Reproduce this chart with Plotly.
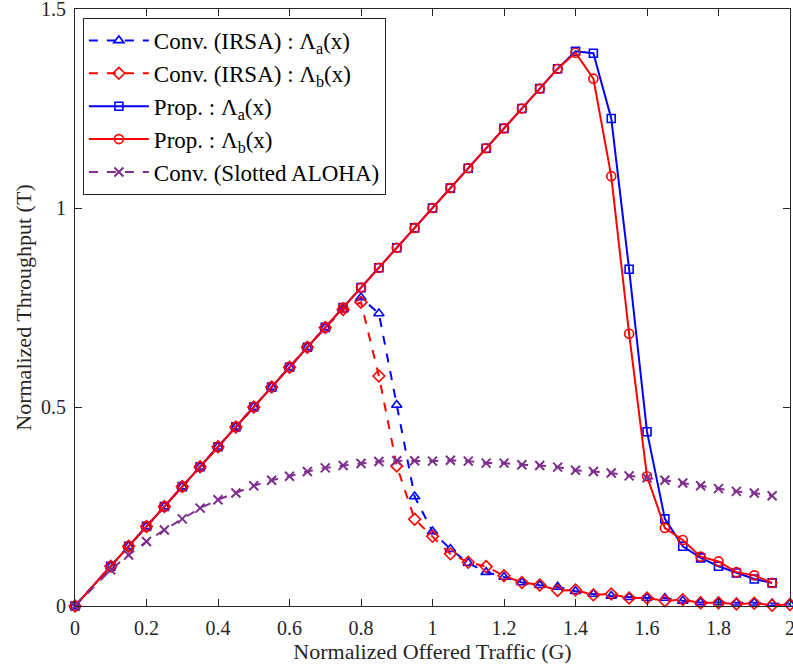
import plotly.graph_objects as go

# Offered traffic G (0, then 0.10 ... 2.00 in 0.05 steps)
G = [0.0, 0.10, 0.15, 0.20, 0.25, 0.30, 0.35, 0.40, 0.45, 0.50, 0.55, 0.60, 0.65, 0.70, 0.75, 0.80,
     0.85, 0.90, 0.95, 1.00, 1.05, 1.10, 1.15, 1.20, 1.25, 1.30, 1.35, 1.40, 1.45, 1.50, 1.55, 1.60,
     1.65, 1.70, 1.75, 1.80, 1.85, 1.90, 1.95, 2.00]
G_short = G[:-1]

# Conv. (IRSA) Lambda_a
irsa_a = [0.0, 0.10, 0.15, 0.20, 0.25, 0.30, 0.35, 0.40, 0.45, 0.50, 0.55, 0.60, 0.65, 0.70, 0.745,
          0.775, 0.735, 0.505, 0.275, 0.187, 0.143, 0.108, 0.085, 0.073, 0.059, 0.052, 0.048, 0.037, 0.030,
          0.025, 0.022, 0.020, 0.020, 0.013, 0.009, 0.009, 0.008, 0.008, 0.006, 0.005]
# Conv. (IRSA) Lambda_b
irsa_b = [0.0, 0.10, 0.15, 0.20, 0.25, 0.30, 0.35, 0.40, 0.45, 0.50, 0.55, 0.60, 0.65, 0.70, 0.745,
          0.763, 0.578, 0.352, 0.218, 0.175, 0.131, 0.110, 0.099, 0.076, 0.059, 0.053, 0.039, 0.040, 0.028,
          0.030, 0.020, 0.020, 0.013, 0.016, 0.008, 0.008, 0.005, 0.007, 0.002, 0.004]
# Prop. Lambda_a  (x = 0 ... 1.95)
prop_a = [0.0, 0.10, 0.15, 0.20, 0.25, 0.30, 0.35, 0.40, 0.45, 0.50, 0.55, 0.60, 0.65, 0.70, 0.75,
          0.80, 0.85, 0.90, 0.95, 1.00, 1.05, 1.10, 1.15, 1.20, 1.25, 1.30, 1.35, 1.394, 1.389,
          1.225, 0.846, 0.438, 0.219, 0.150, 0.121, 0.100, 0.083, 0.068, 0.058]
# Prop. Lambda_b
prop_b = [0.0, 0.10, 0.15, 0.20, 0.25, 0.30, 0.35, 0.40, 0.45, 0.50, 0.55, 0.60, 0.65, 0.70, 0.75,
          0.80, 0.85, 0.90, 0.95, 1.00, 1.05, 1.10, 1.15, 1.20, 1.25, 1.30, 1.35, 1.390, 1.325,
          1.080, 0.684, 0.326, 0.196, 0.166, 0.124, 0.112, 0.085, 0.077, 0.058]
# Conv. (Slotted ALOHA)
aloha = [0.0, 0.091, 0.128, 0.162, 0.191, 0.219, 0.246, 0.267, 0.284, 0.302, 0.316, 0.326, 0.338,
         0.347, 0.353, 0.358, 0.363, 0.365, 0.365, 0.364, 0.366, 0.364, 0.359, 0.359, 0.355, 0.353,
         0.349, 0.341, 0.338, 0.334, 0.327, 0.322, 0.316, 0.309, 0.302, 0.295, 0.288, 0.284, 0.277]

x_ticks = [0, 0.2, 0.4, 0.6, 0.8, 1, 1.2, 1.4, 1.6, 1.8, 2]
x_tick_text = ["0", "0.2", "0.4", "0.6", "0.8", "1", "1.2", "1.4", "1.6", "1.8", "2"]
y_ticks = [0, 0.5, 1, 1.5]
y_tick_text = ["0", "0.5", "1", "1.5"]

BLUE = "#0000FF"
RED = "#FF0000"
PURPLE = "#7E2F8E"
FONT = "Times New Roman, Liberation Serif, serif"
AX = "#262626"

fig = go.Figure()
fig.add_trace(go.Scatter(x=G, y=irsa_a, mode="lines+markers", name="Conv. (IRSA) : Λ<sub>a</sub>(x)",
                         line=dict(color=BLUE, width=2, dash="dash"),
                         marker=dict(symbol="triangle-up-open", size=9, color=BLUE, line=dict(width=1.6)),
                         cliponaxis=False))
fig.add_trace(go.Scatter(x=G, y=irsa_b, mode="lines+markers", name="Conv. (IRSA) : Λ<sub>b</sub>(x)",
                         line=dict(color=RED, width=2, dash="dash"),
                         marker=dict(symbol="diamond-open", size=9, color=RED, line=dict(width=1.6)),
                         cliponaxis=False))
fig.add_trace(go.Scatter(x=G_short, y=prop_a, mode="lines+markers", name="Prop. : Λ<sub>a</sub>(x)",
                         line=dict(color=BLUE, width=2),
                         marker=dict(symbol="square-open", size=8, color=BLUE, line=dict(width=1.6)),
                         cliponaxis=False))
fig.add_trace(go.Scatter(x=G_short, y=prop_b, mode="lines+markers", name="Prop. : Λ<sub>b</sub>(x)",
                         line=dict(color=RED, width=2),
                         marker=dict(symbol="circle-open", size=9, color=RED, line=dict(width=1.6)),
                         cliponaxis=False))
fig.add_trace(go.Scatter(x=G_short, y=aloha, mode="lines+markers", name="Conv. (Slotted ALOHA)",
                         line=dict(color=PURPLE, width=2, dash="dash"),
                         marker=dict(symbol="x-thin-open", size=9, color=PURPLE, line=dict(width=2, color=PURPLE)),
                         cliponaxis=False))

axis_common = dict(showline=True, linecolor=AX, linewidth=1, mirror="ticks", ticks="inside",
                   ticklen=7, tickcolor=AX, showgrid=False, zeroline=False, ticklabeloverflow="allow",
                   automargin=False, tickfont=dict(family=FONT, size=20, color=AX))
fig.update_xaxes(range=[0, 2], tickvals=x_ticks, ticktext=x_tick_text, ticklabelstandoff=4,
                 title=dict(text="Normalized Offered Traffic (G)", font=dict(family=FONT, size=22, color=AX),
                            standoff=4),
                 **axis_common)
fig.update_yaxes(range=[0, 1.5], tickvals=y_ticks, ticktext=y_tick_text, ticklabelstandoff=4,
                 title=dict(text="Normalized Throughput (T)", font=dict(family=FONT, size=22, color=AX),
                            standoff=3),
                 **axis_common)

fig.update_layout(
    width=793, height=669,
    margin=dict(l=75, r=3, t=9, b=63),
    paper_bgcolor="white", plot_bgcolor="white",
    font=dict(family=FONT, color="#000000"),
    legend=dict(x=0.011, y=0.985, xanchor="left", yanchor="top",
                bgcolor="white", bordercolor=AX, borderwidth=1,
                font=dict(family=FONT, size=23, color="#000000"),
                itemwidth=60),
    showlegend=True,
)

fig.write_html("out.html")
